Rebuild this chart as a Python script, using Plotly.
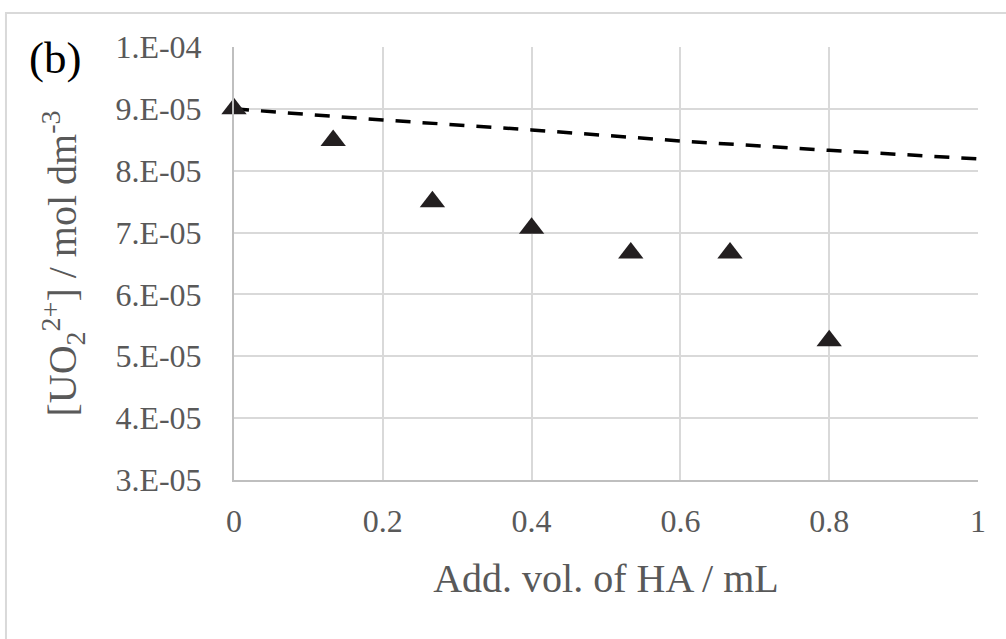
import plotly.graph_objects as go

# Measured data (triangles)
vol_ha = [0.0, 0.1333, 0.2667, 0.4, 0.5333, 0.6667, 0.8]
uo2_conc = [9.0e-05, 8.49e-05, 7.50e-05, 7.07e-05, 6.67e-05, 6.67e-05, 5.25e-05]

# Dashed reference curve
curve_x = [0.0, 0.2, 0.4, 0.6, 0.8, 1.0]
curve_y = [9.0e-05, 8.82e-05, 8.66e-05, 8.48e-05, 8.33e-05, 8.19e-05]

# Ticks
x_ticks = [0, 0.2, 0.4, 0.6, 0.8, 1]
x_tick_labels = ["0", "0.2", "0.4", "0.6", "0.8", "1"]
y_ticks = [3e-05, 4e-05, 5e-05, 6e-05, 7e-05, 8e-05, 9e-05, 1e-04]
y_tick_labels = ["3.E-05", "4.E-05", "5.E-05", "6.E-05", "7.E-05", "8.E-05", "9.E-05", "1.E-04"]

FONT = "Liberation Serif"
GRAY = "#595959"

fig = go.Figure()
fig.add_trace(go.Scatter(
    x=curve_x, y=curve_y, mode="lines",
    line=dict(color="#000000", width=3.5, dash="15px,12px"),
    showlegend=False, hoverinfo="skip",
))
fig.add_trace(go.Scatter(
    x=vol_ha, y=uo2_conc, mode="markers",
    marker=dict(symbol="triangle-up", size=22, color="#231f20", line=dict(width=0)),
    showlegend=False, cliponaxis=False,
))

fig.update_layout(
    width=1006, height=639,
    margin=dict(l=234, r=28, t=47, b=159),
    paper_bgcolor="white", plot_bgcolor="white",
    font=dict(family=FONT, color=GRAY),
    xaxis=dict(
        range=[0, 1], tickvals=x_ticks, ticktext=x_tick_labels,
        showgrid=True, gridcolor="#d9d9d9", gridwidth=1.5,
        showline=True, linecolor="#bfbfbf", linewidth=2,
        zeroline=False, ticks="", tickfont=dict(size=32, color=GRAY, family=FONT),
        ticklabelstandoff=12,
        title=dict(text="Add. vol. of HA / mL", font=dict(size=40, color=GRAY, family=FONT), standoff=26),
    ),
    yaxis=dict(
        range=[3e-05, 1e-04], tickvals=y_ticks, ticktext=y_tick_labels,
        showgrid=True, gridcolor="#d9d9d9", gridwidth=1.5,
        showline=True, linecolor="#bfbfbf", linewidth=2,
        zeroline=False, ticks="", tickfont=dict(size=32, color=GRAY, family=FONT),
        ticklabelstandoff=24,
        title=dict(text="[UO<sub>2</sub><sup>2+</sup>] / mol dm<sup>-3</sup>",
                   font=dict(size=40, color=GRAY, family=FONT), standoff=26),
    ),
    shapes=[dict(
        type="rect", xref="paper", yref="paper",
        x0=-0.3065, x1=1.05, y0=-0.40, y1=1.0785,
        line=dict(color="#d9d9d9", width=2), fillcolor="rgba(0,0,0,0)", layer="below",
    )],
    annotations=[dict(
        text="(b)", xref="paper", yref="paper", x=-0.2406, y=0.9746,
        xanchor="center", yanchor="middle", showarrow=False,
        font=dict(size=45, color="#000000", family=FONT),
    )],
)

fig.write_html("out.html", config={"displayModeBar": False},
               post_script="document.body.style.margin='0';")
